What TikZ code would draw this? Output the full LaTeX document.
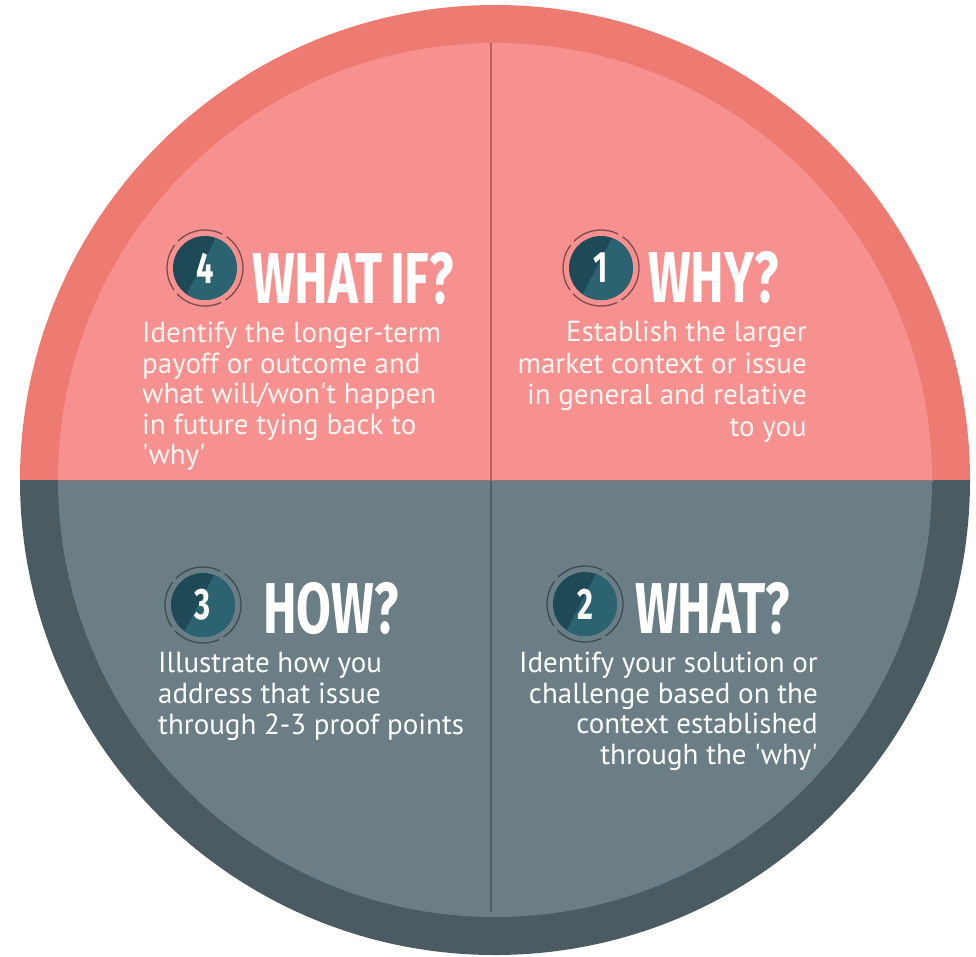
\documentclass[tikz,border=0pt]{standalone}
\usepackage{fontspec}
\setmainfont{PT Sans}
\newfontfamily\titlefont{Fira Sans}[FakeStretch=0.7]
\definecolor{pinkRing}{HTML}{ED7B72}
\definecolor{pinkIn}{HTML}{F6918F}
\definecolor{greyRing}{HTML}{4B5B62}
\definecolor{greyIn}{HTML}{6B7E85}
\definecolor{badgeDark}{HTML}{1E4956}
\definecolor{badgeLight}{HTML}{2B6371}
\definecolor{ringOnPink}{HTML}{7C4B4B}
\definecolor{ringOnGrey}{HTML}{3C4C53}
\definecolor{pinkLine}{HTML}{B5625F}
\definecolor{greyLine}{HTML}{4E5E65}
\definecolor{softWhite}{HTML}{FFF6F4}
\newcommand\sq{\textquotesingle}
\tikzset{
  body/.style={inner sep=0pt, text=softWhite, font=\fontsize{29}{30.5}\selectfont},
  heading/.style={inner sep=0pt, text=white, font=\titlefont\bfseries\fontsize{72}{72}\selectfont},
  digit/.style={inner sep=0pt, text=white, font=\titlefont\bfseries\fontsize{44}{44}\selectfont},
}
% numbered badge: #1 name, #2 centre, #3 number, #4 ring colour
\newcommand\numbadge[4]{%
  \fill[badgeDark] #2 circle (32);
  \begin{scope}
    \clip #2 circle (32);
    \fill[badgeLight] ($#2+(-70:32)$) arc (-70:125:32) -- cycle;
  \end{scope}
  \draw[#4, line width=1.3pt, dash pattern=on 48pt off 5pt, dash phase=10pt] #2 circle (38);
  \node[digit] (#1) at #2 {#3};
}
\usetikzlibrary{calc}
\begin{document}
\begin{tikzpicture}[x=1pt, y=-1pt]
  \path[use as bounding box] (0,0) rectangle (976,956);
  \coordinate (c) at (495,480);
  % upper half in pink
  \begin{scope}
    \clip (0,0) rectangle (976,480);
    \fill[pinkRing] (c) circle (475);
    \fill[pinkIn] (c) circle (437);
  \end{scope}
  % lower half in slate grey
  \begin{scope}
    \clip (0,480) rectangle (976,956);
    \fill[greyRing] (c) circle (475);
    \fill[greyIn] (c) circle (437);
  \end{scope}
  % dividers
  \coordinate (vtop) at (491,43);
  \coordinate (vmid) at (491,480);
  \coordinate (vbot) at (491,912);
  \draw[pinkLine, line width=1.6pt] (vtop) -- (vmid);
  \draw[greyLine, line width=1.6pt] (vmid) -- (vbot);
  \draw[greyLine!60!pinkIn, line width=1pt] (58,480) -- (934,480);

  % 4 - what if
  \numbadge{n4}{(205,268)}{4}{ringOnPink}
  \node[heading, anchor=base west] (h4) at (252,303) {WHAT\hspace{0.1em}IF?};
  \node[body, anchor=north west, align=left] (t4) at (142,322)
    {Identify the longer-term\\payoff or outcome and\\what will/won\sq t happen\\in future tying back to\\\sq why\sq};

  % 1 - why
  \numbadge{n1}{(601,268)}{1}{ringOnPink}
  \node[heading, anchor=base west] (h1) at (648,302) {WHY?};
  \node[body, anchor=north east, align=right, font=\fontsize{29}{31.5}\selectfont] (t1) at (807,321)
    {Establish the larger\\market context or issue\\in general and relative\\to you};

  % 3 - how
  \numbadge{n3}{(203,605)}{3}{ringOnGrey}
  \node[heading, anchor=base west] (h3) at (263,633) {HOW?};
  \node[body, anchor=north west, align=left, text=white, font=\fontsize{29}{31}\selectfont] (t3) at (158,652)
    {Illustrate how you\\address that issue\\through 2-3 proof points};

  % 2 - what
  \numbadge{n2}{(585,604)}{2}{ringOnGrey}
  \node[heading, anchor=base west] (h2) at (635,633) {WHAT?};
  \node[body, anchor=north east, align=right, text=white, font=\fontsize{29}{30.5}\selectfont] (t2) at (818,652)
    {Identify your solution or\\challenge based on the\\context established\\through the \sq why\sq};
\end{tikzpicture}
\end{document}
